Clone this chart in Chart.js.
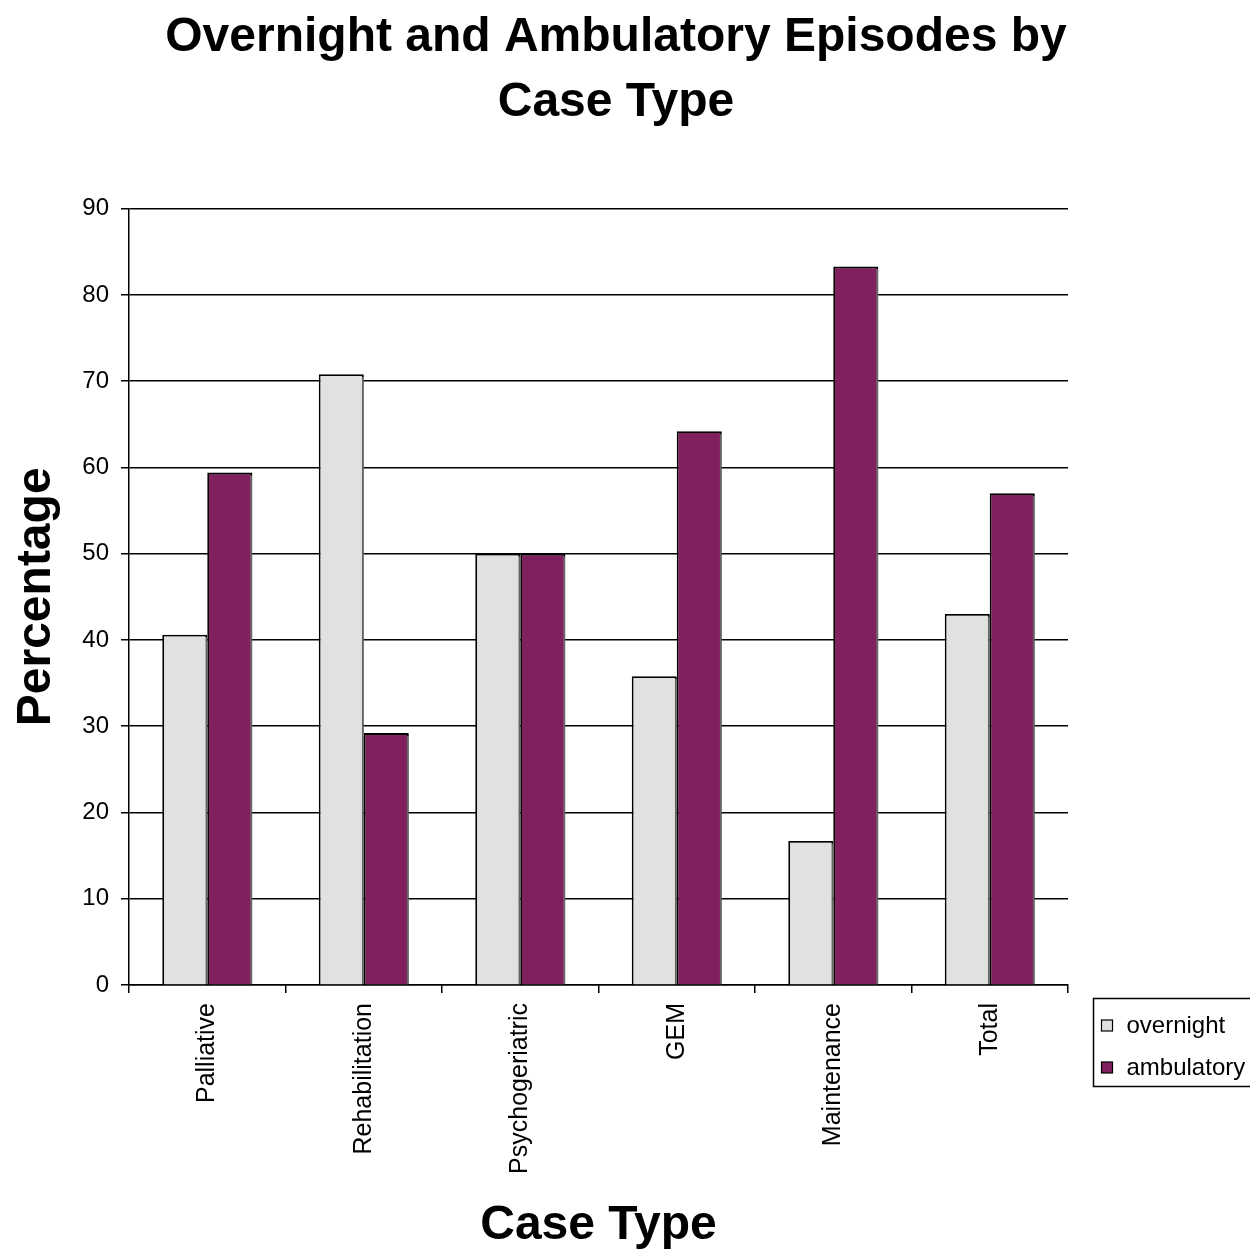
<!DOCTYPE html>
<html>
<head>
<meta charset="utf-8">
<script src="https://cdn.jsdelivr.net/npm/chart.js@4/dist/chart.umd.min.js"></script>
<style>
  html, body { margin: 0; padding: 0; background: #ffffff; }
  #wrap { width: 1250px; height: 1249px; position: relative; }
</style>
</head>
<body>
<div id="wrap"><canvas id="chart" width="1250" height="1249"></canvas></div>
<script>
// Share of episodes (%) per case type
const categories = ['Palliative', 'Rehabilitation', 'Psychogeriatric', 'GEM', 'Maintenance', 'Total'];
const overnight  = [40.6, 70.8, 50.0, 35.8, 16.7, 43.0];
const ambulatory = [59.4, 29.2, 50.0, 64.2, 83.3, 57.0];
const yTicks = [0, 10, 20, 30, 40, 50, 60, 70, 80, 90];

const FONT = "'Liberation Sans', Arial, Helvetica, sans-serif";

// Thin grey drop shadow behind each bar
const barShadow = {
  id: 'barShadow',
  beforeDatasetsDraw(chart) {
    const ctx = chart.ctx;
    ctx.save();
    ctx.shadowColor = 'rgba(128,128,128,0.8)';
    ctx.shadowOffsetX = 2;
    ctx.shadowOffsetY = 1;
    ctx.shadowBlur = 0;
  },
  afterDatasetsDraw(chart) {
    chart.ctx.restore();
  }
};

// Centre the main title across the page rather than the padded layout area
const titleSpan = {
  id: 'titleSpan',
  afterLayout(chart) {
    if (chart.titleBlock) {
      chart.titleBlock.left = 0;
      chart.titleBlock.right = chart.width - 18;
    }
  }
};

// Boxed legend in the lower-right corner, below the plot area
const boxLegend = {
  id: 'boxLegend',
  afterDraw(chart) {
    const ctx = chart.ctx;
    const area = chart.chartArea;
    const x0 = area.right + 25.5;
    const y0 = area.bottom + 13.5;
    const w = chart.width - x0 + 5;
    const h = 88;
    ctx.save();
    ctx.fillStyle = '#ffffff';
    ctx.fillRect(x0, y0, w, h);
    ctx.strokeStyle = '#000000';
    ctx.lineWidth = 1.5;
    ctx.strokeRect(x0, y0, w, h);
    ctx.font = '24px ' + FONT;
    ctx.textBaseline = 'middle';
    chart.data.datasets.forEach((ds, i) => {
      const cy = y0 + 27 + i * 42;
      ctx.fillStyle = ds.backgroundColor;
      ctx.fillRect(x0 + 8, cy - 5.5, 11, 11);
      ctx.lineWidth = 1.2;
      ctx.strokeStyle = '#000000';
      ctx.strokeRect(x0 + 8, cy - 5.5, 11, 11);
      ctx.fillStyle = '#000000';
      ctx.fillText(ds.label, x0 + 33, cy + 1);
    });
    ctx.restore();
  }
};

new Chart(document.getElementById('chart'), {
  type: 'bar',
  data: {
    labels: categories,
    datasets: [
      {
        label: 'overnight',
        data: overnight,
        backgroundColor: '#e1e1e1',
        borderColor: '#000000',
        borderWidth: 1.8,
        borderSkipped: 'bottom'
      },
      {
        label: 'ambulatory',
        data: ambulatory,
        backgroundColor: '#80205f',
        borderColor: '#000000',
        borderWidth: 1.8,
        borderSkipped: 'bottom'
      }
    ]
  },
  options: {
    responsive: false,
    animation: false,
    events: [],
    devicePixelRatio: 1,
    layout: { padding: { left: 0, right: 182, top: 0, bottom: 0 } },
    datasets: {
      bar: { categoryPercentage: 0.575, barPercentage: 1.0 }
    },
    plugins: {
      legend: { display: false },
      tooltip: { enabled: false },
      title: {
        display: true,
        text: ['Overnight and Ambulatory Episodes by', 'Case Type'],
        color: '#000000',
        font: { family: FONT, size: 48, weight: 'bold', lineHeight: 1.34 },
        padding: { top: 6, bottom: 74 }
      }
    },
    scales: {
      x: {
        type: 'category',
        offset: true,
        afterFit(scale) { scale.height = 264; },
        grid: {
          display: true,
          offset: true,
          drawOnChartArea: false,
          drawTicks: true,
          tickLength: 8,
          color: '#000000',
          lineWidth: 1.5
        },
        border: { display: true, color: '#000000', width: 1.5 },
        ticks: {
          color: '#000000',
          font: { family: FONT, size: 25 },
          maxRotation: 90,
          minRotation: 90,
          padding: 10,
          autoSkip: false
        },
        title: {
          display: true,
          text: 'Case Type',
          color: '#000000',
          font: { family: FONT, size: 48, weight: 'bold', lineHeight: 0.95 },
          padding: { top: 0, bottom: 0 }
        }
      },
      y: {
        min: 0,
        max: 90,
        afterFit(scale) { scale.width = 129; },
        afterBuildTicks(scale) { scale.ticks = yTicks.map(v => ({ value: v })); },
        grid: {
          display: true,
          drawOnChartArea: true,
          drawTicks: true,
          tickLength: 8,
          color: '#000000',
          lineWidth: 1.5
        },
        border: { display: true, color: '#000000', width: 1.5 },
        ticks: {
          color: '#000000',
          font: { family: FONT, size: 24 },
          padding: 12
        },
        title: {
          display: true,
          text: 'Percentage',
          color: '#000000',
          font: { family: FONT, size: 48, weight: 'bold' },
          padding: { top: 8, bottom: 0 }
        }
      }
    }
  },
  plugins: [titleSpan, barShadow, boxLegend]
});
</script>
</body>
</html>
